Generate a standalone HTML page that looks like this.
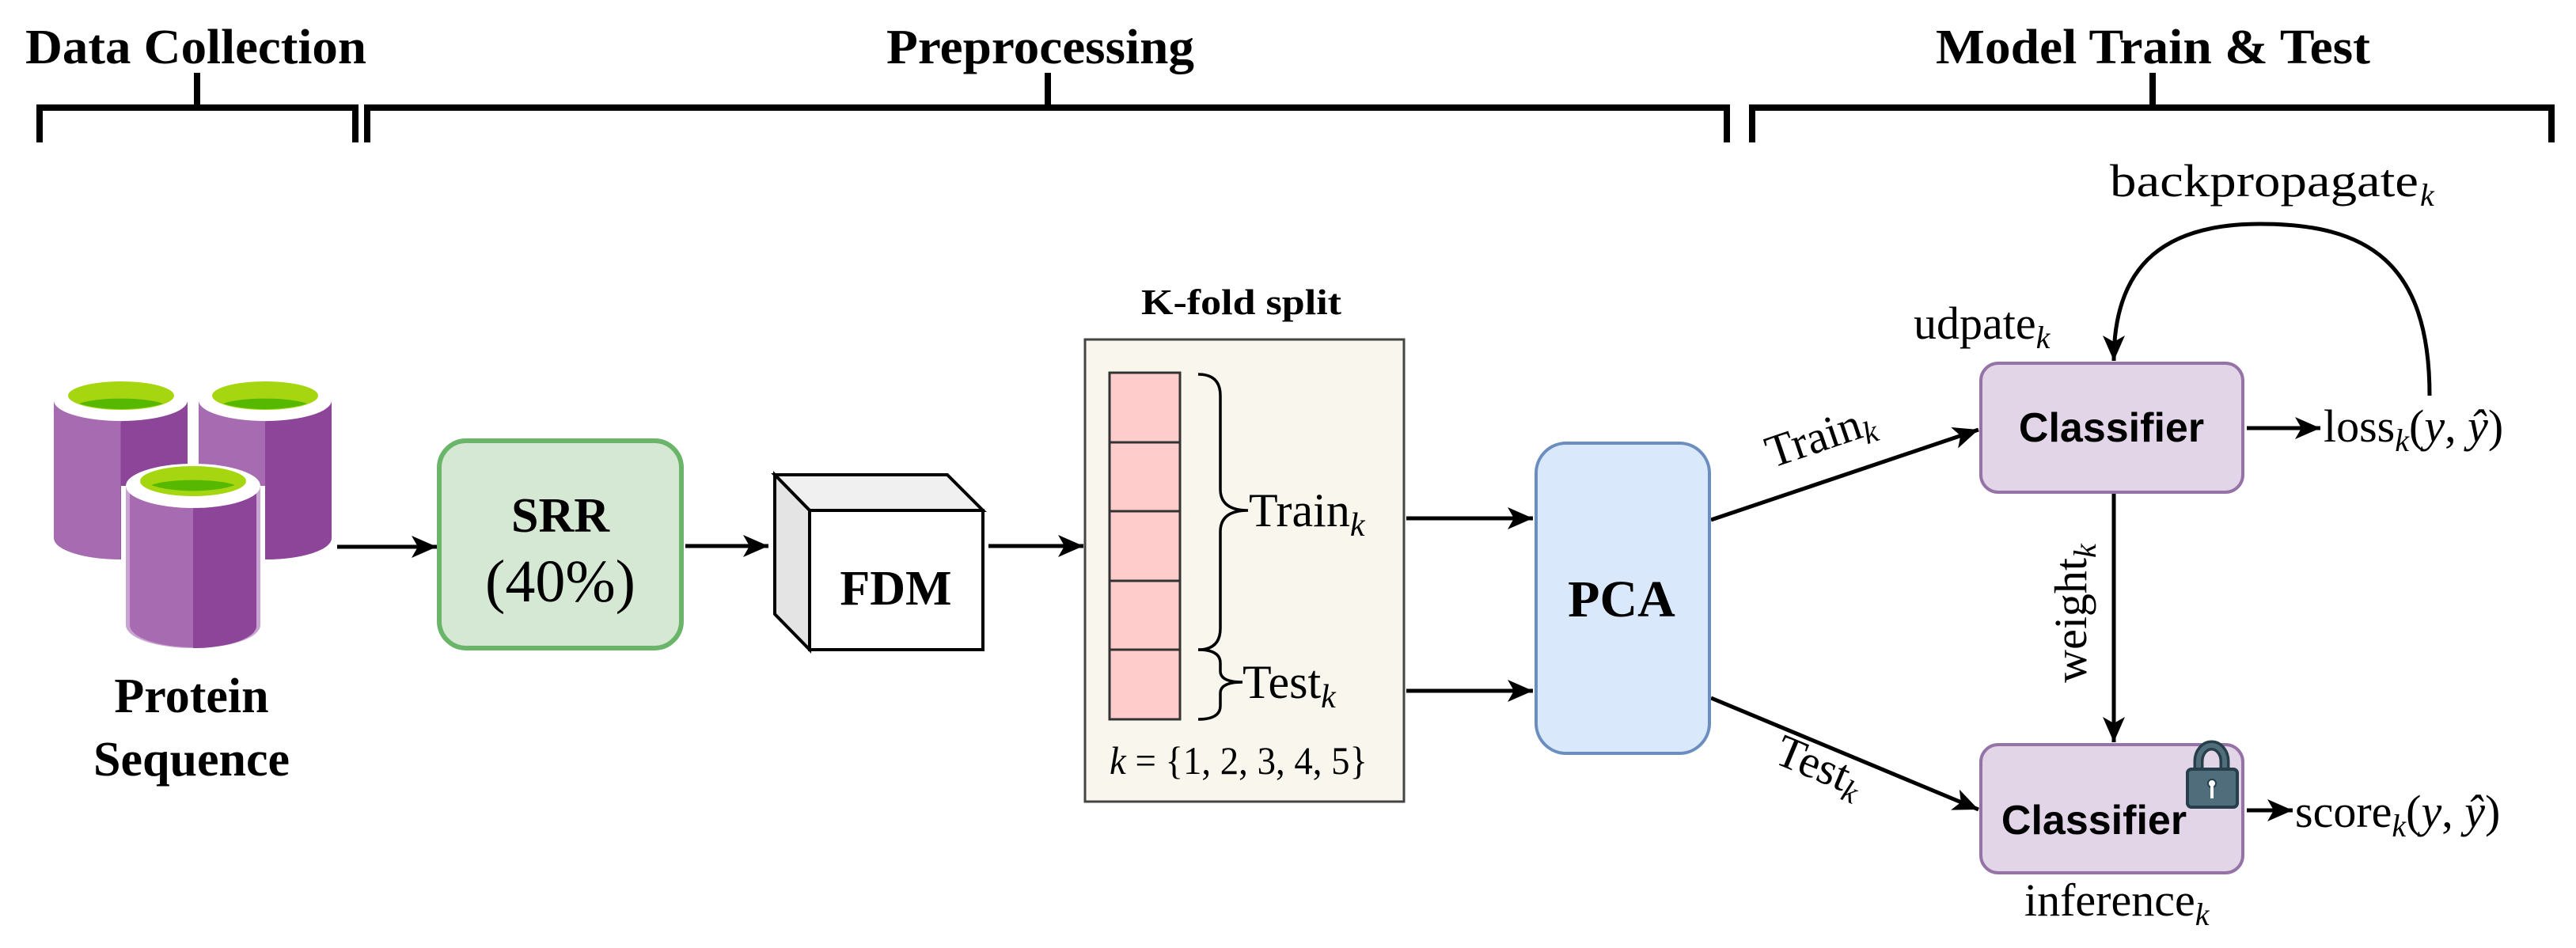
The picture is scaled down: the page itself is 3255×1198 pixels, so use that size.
<!DOCTYPE html>
<html><head><meta charset="utf-8"><style>
html,body{margin:0;padding:0;background:#fff;}
svg{display:block;}
.h{font-family:"Liberation Serif",serif;font-weight:bold;}
.m{font-family:"Liberation Serif",serif;}
.a{font-family:"Liberation Sans",sans-serif;font-weight:bold;}
</style></head><body>
<svg width="3255" height="1198" viewBox="0 0 3255 1198" xmlns="http://www.w3.org/2000/svg">
<defs>
<marker id="ar" markerUnits="userSpaceOnUse" markerWidth="40" markerHeight="30" refX="32" refY="14" orient="auto">
<path d="M0,0 L32,14 L0,28 L8,14 Z" fill="#000"/>
</marker>
</defs>

<!-- headers -->
<text class="h" x="32" y="80" font-size="62" textLength="431" lengthAdjust="spacingAndGlyphs">Data Collection</text>
<text class="h" x="1120" y="80" font-size="62" textLength="389" lengthAdjust="spacingAndGlyphs">Preprocessing</text>
<text class="h" x="2446" y="80" font-size="62" textLength="549" lengthAdjust="spacingAndGlyphs">Model Train &amp; Test</text>

<g stroke="#000" stroke-width="8" fill="none">
<path d="M50,180 V136 H449 V180"/><path d="M249,136 V92"/>
<path d="M464,180 V136 H2182 V180"/><path d="M1324,136 V92"/>
<path d="M2214,180 V136 H3224 V180"/><path d="M2720,136 V92"/>
</g>

<!-- cylinders -->
<g>
 <g id="cyl">
 </g>
 <!-- back left -->
 <path d="M68,506 V680 A84.5,27 0 0 0 237,680 V506 Z" fill="#a66bb0"/>
 <path d="M152.5,533 V707 A84.5,27 0 0 0 237,680 V506 Z" fill="#8c4599"/>
 <ellipse cx="152.5" cy="506" rx="84.5" ry="26" fill="#fff"/>
 <ellipse cx="153" cy="500" rx="67" ry="18" fill="#a5d610"/>
 <path d="M100,510 A60,12 0 0 1 206,510 A67,18 0 0 1 100,510 Z" fill="#57b800"/>
 <!-- back right -->
 <path d="M251,506 V680 A84,27 0 0 0 419,680 V506 Z" fill="#a66bb0"/>
 <path d="M335,533 V707 A84,27 0 0 0 419,680 V506 Z" fill="#8c4599"/>
 <ellipse cx="335" cy="506" rx="84" ry="26" fill="#fff"/>
 <ellipse cx="335" cy="500" rx="67" ry="18" fill="#a5d610"/>
 <path d="M282,510 A60,12 0 0 1 388,510 A67,18 0 0 1 282,510 Z" fill="#57b800"/>
 <!-- front -->
 <path d="M153,614 V790 A91,33 0 0 0 335,790 V614 Z" fill="#fff"/>
 <path d="M159,614 V790 A85,29 0 0 0 329,790 V614 Z" fill="#c9a3d1"/>
 <path d="M164,614 V790 A80,28 0 0 0 324,790 V614 Z" fill="#a66bb0"/>
 <path d="M244,642 V819 A80,28 0 0 0 324,790 V614 Z" fill="#8c4599"/>
 <ellipse cx="244" cy="614" rx="85" ry="28" fill="#fff"/>
 <ellipse cx="244" cy="608" rx="67" ry="19" fill="#a5d610"/>
 <path d="M191,613 A60,12 0 0 1 297,613 A67,19 0 0 1 191,613 Z" fill="#57b800"/>
</g>
<text class="h" x="242" y="900" font-size="62" text-anchor="middle">Protein</text>
<text class="h" x="242" y="980" font-size="62" text-anchor="middle">Sequence</text>

<!-- arrows left -->
<g stroke="#000" stroke-width="5" fill="none" marker-end="url(#ar)">
<path d="M426,691 H552"/>
<path d="M866,690 H971"/>
<path d="M1249,690 H1369"/>
<path d="M1777,655 H1937"/>
<path d="M1777,873 H1937"/>
<path d="M2162,657 L2500,543"/>
<path d="M2162,882 L2500,1023"/>
<path d="M2839,541 H2932"/>
<path d="M2839,1024 H2897"/>
<path d="M2671,623 V938"/>
<path d="M3070,500 C3070,330 2990,283 2856,283 C2740,283 2671,330 2671,456"/>
</g>

<!-- SRR -->
<rect x="555" y="557" width="306" height="262" rx="34" fill="#d5e8d4" stroke="#6ab56a" stroke-width="6"/>
<text class="h" x="708" y="672" font-size="62" text-anchor="middle">SRR</text>
<text class="m" x="708" y="760" font-size="76" text-anchor="middle">(40%)</text>

<!-- FDM -->
<g stroke="#000" stroke-width="4" stroke-linejoin="miter">
<path d="M979,600 L1197,600 L1242,645 L1023,645 Z" fill="#f0f0f0"/>
<path d="M979,600 L1023,645 L1023,821 L979,776 Z" fill="#e4e4e4"/>
<rect x="1023" y="645" width="219" height="176" fill="#fff"/>
</g>
<text class="h" x="1132" y="764" font-size="62" text-anchor="middle">FDM</text>

<!-- K-fold -->
<text class="h" x="1442" y="397" font-size="46" textLength="253" lengthAdjust="spacingAndGlyphs">K-fold split</text>
<rect x="1371" y="429" width="403" height="584" fill="#f9f7ed" stroke="#444" stroke-width="3"/>
<g fill="#ffcccc" stroke="#333" stroke-width="3">
<rect x="1402" y="471" width="89" height="88"/>
<rect x="1402" y="559" width="89" height="87"/>
<rect x="1402" y="646" width="89" height="88"/>
<rect x="1402" y="734" width="89" height="87"/>
<rect x="1402" y="821" width="89" height="88"/>
</g>
<g stroke="#000" stroke-width="3.5" fill="none">
<path d="M1514,473 Q1542,473 1542,500 V618 Q1542,645 1577,645 Q1542,645 1542,672 V794 Q1542,821 1514,821"/>
<path d="M1514,821 Q1542,821 1542,838 V848 Q1542,862 1570,862 Q1542,862 1542,876 V892 Q1542,909 1514,909"/>
</g>
<text class="m" x="1578" y="665" font-size="60">Train<tspan font-style="italic" font-size="42" dy="12">k</tspan></text>
<text class="m" x="1570" y="882" font-size="60">Test<tspan font-style="italic" font-size="42" dy="12">k</tspan></text>
<text class="m" x="1402" y="978" font-size="50" textLength="326" lengthAdjust="spacingAndGlyphs"><tspan font-style="italic">k</tspan> = {1, 2, 3, 4, 5}</text>

<!-- PCA -->
<rect x="1941" y="560" width="219" height="392" rx="38" fill="#dae8fc" stroke="#6c8ebf" stroke-width="4"/>
<text class="h" x="2049" y="779" font-size="66" text-anchor="middle">PCA</text>

<!-- labels on diagonal arrows -->
<text class="m" x="2306" y="569" font-size="58" text-anchor="middle" transform="rotate(-18.7 2306 569)">Train<tspan font-style="italic" font-size="40" dy="10">k</tspan></text>
<text class="m" x="2292" y="985" font-size="58" text-anchor="middle" transform="rotate(22.7 2292 985)">Test<tspan font-style="italic" font-size="40" dy="10">k</tspan></text>

<!-- classifiers -->
<rect x="2503" y="459" width="331" height="163" rx="22" fill="#e1d5e7" stroke="#9673a6" stroke-width="4"/>
<text class="a" x="2668" y="558" font-size="52" text-anchor="middle">Classifier</text>
<rect x="2503" y="941" width="331" height="162" rx="22" fill="#e1d5e7" stroke="#9673a6" stroke-width="4"/>
<text class="a" x="2646" y="1054" font-size="52" text-anchor="middle">Classifier</text>
<!-- lock -->
<path d="M2778,975 V962 A16.5,20 0 0 1 2811,962 V975" fill="none" stroke="#263f4a" stroke-width="13"/>
<path d="M2778,975 V962 A16.5,20 0 0 1 2811,962 V975" fill="none" stroke="#4f6d7a" stroke-width="6"/>
<rect x="2764" y="972" width="63" height="48" rx="5" fill="#4f6d7a" stroke="#263f4a" stroke-width="4"/>
<circle cx="2795" cy="990" r="5" fill="#fff" stroke="#263f4a" stroke-width="2"/>
<rect x="2793" y="992" width="4" height="17" fill="#fff"/>

<text class="m" x="2666" y="248" font-size="58" textLength="390" lengthAdjust="spacingAndGlyphs">backpropagate</text><text class="m" x="3058" y="260" font-size="40" font-style="italic">k</text>
<text class="m" x="2418" y="428" font-size="58">udpate<tspan font-style="italic" font-size="40" dy="12">k</tspan></text>
<text class="m" x="2936" y="558" font-size="58">loss<tspan font-style="italic" font-size="40" dy="12">k</tspan><tspan dy="-12">(</tspan><tspan font-style="italic">y</tspan>, <tspan font-style="italic">ŷ</tspan>)</text>
<text class="m" x="2900" y="1045" font-size="58">score<tspan font-style="italic" font-size="40" dy="12">k</tspan><tspan dy="-12">(</tspan><tspan font-style="italic">y</tspan>, <tspan font-style="italic">ŷ</tspan>)</text>
<text class="m" x="2558" y="1157" font-size="58">inference<tspan font-style="italic" font-size="40" dy="12">k</tspan></text>
<text class="m" x="2636" y="775" font-size="58" text-anchor="middle" transform="rotate(-90 2636 775)">weight<tspan font-style="italic" font-size="40" dy="12">k</tspan></text>
</svg>
</body></html>
